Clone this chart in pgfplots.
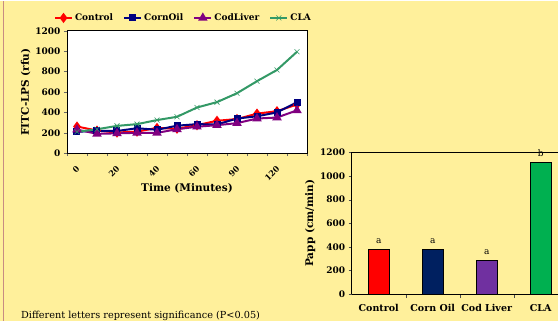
\documentclass[border=0pt]{standalone}
\usepackage{fontspec}
\setmainfont{DejaVu Serif}
\usepackage{pgfplots}
\pgfplotsset{compat=1.18}
\definecolor{bg}{RGB}{255,240,155}
\definecolor{cRed}{RGB}{255,0,0}
\definecolor{cNavy}{RGB}{0,0,128}
\definecolor{cPurp}{RGB}{128,0,128}
\definecolor{cGreen}{RGB}{51,153,102}
\definecolor{bNavy}{RGB}{0,32,96}
\definecolor{bPurp}{RGB}{112,48,160}
\definecolor{bGreen}{RGB}{0,176,80}
\definecolor{edge}{RGB}{200,140,130}
\begin{document}
\begin{tikzpicture}
\fill[bg] (0pt,0pt) rectangle (558pt,320pt);
\draw[edge, line width=1.5pt] (3.5pt,0pt)--(3.5pt,320pt);
\useasboundingbox (0pt,0pt) rectangle (558pt,320pt);
% ---------- line chart ----------
\begin{axis}[
  at={(67pt,167.5pt)}, anchor=south west, scale only axis,
  width=240pt, height=122.5pt,
  xmin=-0.5, xmax=11.5, ymin=0, ymax=1200,
  ytick={0,200,...,1200},
  xtick={0,2,4,6,8,10}, xticklabels={0,20,40,60,90,120},
  minor xtick={-0.5,0.5,...,11.5},
  major x tick style={draw=none},
  minor tick length=3pt, major tick length=3pt,
  tick align=outside, tick pos=left,
  axis background/.style={fill=white},
  axis line style={black, line width=0.8pt},
  tick style={black!60},
  /pgf/number format/assume math mode=true,
  /pgf/number format/1000 sep={},
  tick label style={font=\fontsize{9}{10}\selectfont\bfseries},
  x tick label style={rotate=45, anchor=east, yshift=-9pt, xshift=-4pt, font=\fontsize{8}{9}\selectfont\bfseries},
  ylabel={FITC-LPS (rfu)},
  ylabel style={font=\fontsize{10.5}{12}\selectfont\bfseries, yshift=-2pt},
  xlabel={Time (Minutes)},
  xlabel style={font=\fontsize{10.5}{12}\selectfont\bfseries, yshift=6.5pt},
  legend style={at={(-0.055,1.105)}, anchor=west, legend columns=-1, draw=none, fill=none,
    font=\fontsize{9}{10}\selectfont\bfseries, /tikz/every even column/.append style={column sep=8pt},
    inner sep=0pt},
]
\addplot[cRed, line width=2pt, mark=diamond*, mark size=3.5pt] coordinates {
(0,262) (1,222) (2,203) (3,212) (4,248) (5,240) (6,275) (7,318) (8,335) (9,388) (10,412) (11,478)};
\addlegendentry{Control}
\addplot[cNavy, line width=2pt, mark=square*, mark size=2.5pt] coordinates {
(0,210) (1,220) (2,218) (3,245) (4,230) (5,270) (6,285) (7,282) (8,340) (9,362) (10,400) (11,500)};
\addlegendentry{CornOil}
\addplot[cPurp, line width=2pt, mark=triangle*, mark size=3.5pt] coordinates {
(0,232) (1,190) (2,195) (3,200) (4,200) (5,235) (6,260) (7,275) (8,295) (9,340) (10,350) (11,420)};
\addlegendentry{CodLiver}
\addplot[cGreen, line width=2pt, mark=x, mark size=3.5pt, mark options={line width=0.6pt}] coordinates {
(0,210) (1,235) (2,268) (3,285) (4,325) (5,357) (6,448) (7,501) (8,588) (9,706) (10,816) (11,994)};
\addlegendentry{CLA}
\end{axis}
% ---------- bar chart ----------
\begin{axis}[
  at={(351.7pt,26.7pt)}, anchor=south west, scale only axis,
  width=206.3pt, height=141.6pt,
  xmin=-0.5, xmax=3.32, ymin=0, ymax=1200,
  ybar, bar width=21.7pt,
  axis x line*=bottom, axis y line*=left,
  axis line style={black, line width=0.8pt},
  xtick={0,1,2,3}, xticklabels={Control,Corn Oil,Cod Liver,CLA},
  minor xtick={0.5,1.5,2.5},
  major x tick style={draw=none},
  tick align=outside, minor tick length=4pt, major tick length=3pt,
  tick style={black!70},
  ytick={0,200,...,1200},
  /pgf/number format/assume math mode=true,
  /pgf/number format/1000 sep={},
  tick label style={font=\fontsize{9}{10}\selectfont\bfseries},
  x tick label style={yshift=-4pt, font=\fontsize{9.5}{10}\selectfont\bfseries},
  ylabel={Papp (cm/min)},
  ylabel style={font=\fontsize{10.5}{12}\selectfont\bfseries, yshift=-2pt},
  nodes near coords style={font=\fontsize{9}{10}\selectfont, black, yshift=2pt},
]
\draw[black, line width=0.6pt] (rel axis cs:0,1) -- (rel axis cs:1.02,1);
\addplot[fill=cRed, draw=black, bar shift=0pt, nodes near coords={a}] coordinates {(0,381)};
\addplot[fill=bNavy, draw=black, bar shift=0pt, nodes near coords={a}] coordinates {(1,381)};
\addplot[fill=bPurp, draw=black, bar shift=0pt, nodes near coords={a}] coordinates {(2,291)};
\addplot[fill=bGreen, draw=black, bar shift=0pt, nodes near coords={b}] coordinates {(3,1115)};
\end{axis}
\node[anchor=base west, font=\fontsize{9.7}{11}\selectfont, inner sep=0pt] at (21pt,2.5pt) {Different letters represent significance (P<0.05)};
\end{tikzpicture}
\end{document}
